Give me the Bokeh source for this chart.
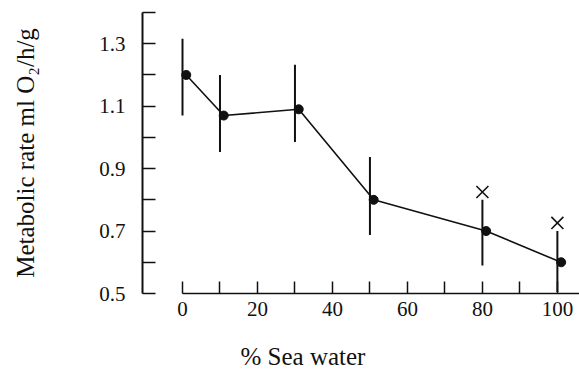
from bokeh.plotting import figure
from bokeh.models import ColumnDataSource, FixedTicker, Range1d, Title
from bokeh.transform import dodge
from bokeh.embed import file_html
from bokeh.resources import INLINE

# ---- data ----
sea_water = [0, 10, 30, 50, 80, 100]
rate_mean = [1.20, 1.07, 1.09, 0.80, 0.70, 0.60]
rate_upper = [1.316, 1.20, 1.233, 0.937, 0.80, 0.70]
rate_lower = [1.07, 0.953, 0.985, 0.687, 0.59, 0.505]
mark_x = [80, 100]
mark_y = [0.825, 0.726]

x_major = [0, 20, 40, 60, 80, 100]
x_minor = [10, 30, 50, 70, 90]
y_major = [0.5, 0.7, 0.9, 1.1, 1.3]
y_minor = [0.6, 0.8, 1.0, 1.2, 1.4]

FONT = "Liberation Serif"
INK = "#111111"

src = ColumnDataSource(dict(x=sea_water, y=rate_mean, lo=rate_lower, hi=rate_upper))

X0, X1 = -10.67, 105.9
p = figure(output_backend="svg", toolbar_location=None,
           frame_width=437, frame_height=281,
           min_border_left=142, min_border_right=0,
           min_border_top=12, min_border_bottom=83,
           x_range=Range1d(X0, X1), y_range=Range1d(0.5, 1.4))
p.background_fill_color = "white"
p.border_fill_color = "white"
p.outline_line_color = None
p.xgrid.visible = False
p.ygrid.visible = False

# error bars
p.segment(x0="x", y0="lo", x1="x", y1="hi", source=src, line_color=INK, line_width=2)
# connecting line and points (points drawn slightly right of bars, as in the original)
p.line(x=dodge("x", 1.0, range=p.x_range), y="y", source=src, line_color=INK, line_width=1.6)
p.scatter(x=dodge("x", 1.0, range=p.x_range), y="y", source=src, size=9,
          fill_color=INK, line_color=INK)
# significance marks
p.scatter(x=mark_x, y=mark_y, marker="x", size=17, line_color=INK, line_width=1.6)

# x axis
xa = p.xaxis[0]
xa.ticker = FixedTicker(ticks=x_major, minor_ticks=x_minor)
xa.bounds = (0, X1)
xa.axis_line_color = INK
xa.axis_line_width = 1.5
xa.major_tick_in = 12
xa.major_tick_out = 0
xa.minor_tick_in = 12
xa.minor_tick_out = 0
xa.major_tick_line_color = INK
xa.minor_tick_line_color = INK
xa.major_tick_line_width = 1.5
xa.minor_tick_line_width = 1.5
xa.major_label_text_font = FONT
xa.major_label_text_font_size = "21px"
xa.major_label_text_color = INK
xa.major_label_standoff = 8

# y axis
ya = p.yaxis[0]
ya.ticker = FixedTicker(ticks=y_major, minor_ticks=y_minor)
ya.bounds = (0.5, 1.4)
ya.axis_line_color = INK
ya.axis_line_width = 2
ya.major_tick_in = 13
ya.major_tick_out = 0
ya.minor_tick_in = 13
ya.minor_tick_out = 0
ya.major_tick_line_color = INK
ya.minor_tick_line_color = INK
ya.major_tick_line_width = 1.5
ya.minor_tick_line_width = 1.5
ya.major_label_text_font = FONT
ya.major_label_text_font_size = "21px"
ya.major_label_text_color = INK
ya.major_label_standoff = 17
ya.axis_label = "Metabolic rate ml O\u2082/h/g"
ya.axis_label_text_font = FONT
ya.axis_label_text_font_size = "25px"
ya.axis_label_text_font_style = "normal"
ya.axis_label_text_color = INK
ya.axis_label_standoff = 57

# x axis title, placed as in the original (left of the axis centre)
p.add_layout(Title(text="% Sea water", text_font=FONT, text_font_size="25px",
                   text_font_style="normal", text_color=INK,
                   align="left", offset=98, standoff=45), "below")

open("out.html", "w").write(file_html(p, INLINE))
